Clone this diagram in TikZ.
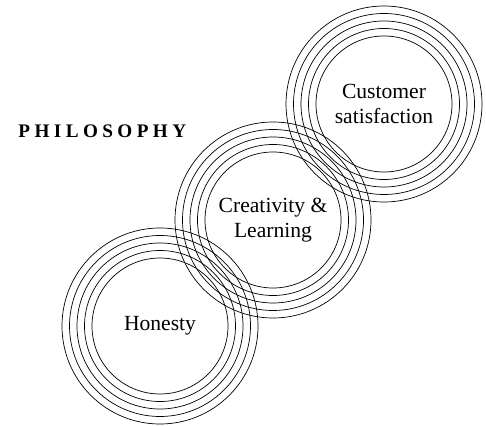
\documentclass[tikz,border=0pt]{standalone}
\usepackage{fontspec}
\setmainfont{Liberation Serif}
\newfontfamily\headfont[LetterSpace=23]{Liberation Serif}

\tikzset{
	ring/.style={line width=0.35pt},
	word/.style={align=center, inner sep=0pt, font=\fontsize{10.8}{12.2}\selectfont},
	headword/.style={inner sep=0pt, font=\headfont\bfseries\fontsize{9.6}{11}\selectfont}
}

\begin{document}
\begin{tikzpicture}[x=0.5pt,y=-0.5pt]
	\useasboundingbox (0,0) rectangle (486,426);

	\coordinate (honesty) at (160,326);
	\coordinate (creativity) at (273,220);
	\coordinate (customer) at (384,104);

	% five rings round each value
	\foreach \c in {honesty,creativity,customer}
		\foreach \r in {98,90.5,83,75.5,68}
			\draw[ring] (\c) circle[radius=\r];

	\node[word] (honestytext) at (honesty) {Honesty};
	\node[word] (creativitytext) at (creativity) {Creativity \&\\Learning};
	\node[word] (customertext) at (customer) {Customer\\satisfaction};

	\node[headword, anchor=base west] (philosophy) at (18,138) {PHILOSOPHY};
\end{tikzpicture}
\end{document}
